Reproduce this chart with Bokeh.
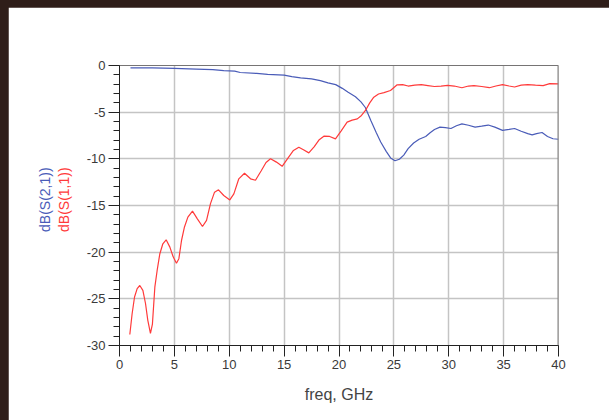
from bokeh.plotting import figure
from bokeh.models import FixedTicker, Span, Range1d, LinearAxis
from bokeh.layouts import column
from bokeh.embed import file_html
from bokeh.resources import INLINE

# S-parameter sweep, frequency in GHz
s11_freq = [0.94, 1.15, 1.37, 1.61, 1.85, 2.13, 2.37, 2.58, 2.82, 3.0, 3.22, 3.43, 3.67,
            3.95, 4.25, 4.59, 4.89, 5.19, 5.41, 5.65, 5.92, 6.23, 6.65, 7.08, 7.56, 7.93,
            8.29, 8.66, 9.02, 9.5, 10.05, 10.42, 10.87, 11.39, 11.94, 12.39, 12.9, 13.35,
            13.76, 14.3, 14.82, 15.3, 15.85, 16.34, 16.8, 17.25, 17.75, 18.2, 18.62, 19.15,
            19.68, 20.2, 20.74, 21.2, 21.67, 22.05, 22.41, 22.8, 23.17, 23.6, 24.1, 24.69,
            25.3, 25.8, 26.3, 26.9, 27.5, 28.1, 28.7, 29.3, 29.9, 30.5, 31.2, 31.8, 32.3,
            33.0, 33.7, 34.3, 34.9, 35.5, 36.0, 36.6, 37.2, 37.9, 38.6, 39.2, 40.0]
s11_db = [-28.82, -26.6, -24.8, -23.9, -23.57, -24.1, -25.5, -27.3, -28.7, -27.7, -23.75,
          -21.96, -20.2, -19.1, -18.68, -19.46, -20.5, -21.18, -20.7, -18.75, -17.3, -16.25,
          -15.6, -16.4, -17.25, -16.6, -14.8, -13.57, -13.32, -13.93, -14.4, -13.75, -12.14,
          -11.54, -12.14, -12.3, -11.3, -10.4, -10.0, -10.35, -10.8, -10.0, -9.1, -8.75,
          -9.05, -9.36, -8.7, -7.95, -7.57, -7.6, -7.86, -7.0, -6.07, -5.85, -5.72, -5.35,
          -4.82, -4.0, -3.39, -3.05, -2.9, -2.68, -2.07, -2.05, -2.2, -2.1, -2.05, -2.15,
          -2.25, -2.2, -2.12, -2.2, -2.38, -2.2, -2.15, -2.25, -2.38, -2.2, -2.04, -2.2,
          -2.3, -2.1, -2.04, -2.1, -2.15, -1.95, -1.96]

s21_freq = [1.0, 3.0, 5.0, 7.0, 8.5, 9.5, 10.5, 11.0, 12.5, 13.5, 15.0, 15.7, 16.5, 17.5,
            18.3, 19.0, 19.7, 20.3, 20.8, 21.5, 22.0, 22.4, 22.9, 23.4, 23.8, 24.3, 24.7,
            25.1, 25.5, 25.9, 26.3, 26.8, 27.3, 27.9, 28.3, 28.7, 29.2, 29.7, 30.2, 30.7,
            31.2, 31.8, 32.4, 33.0, 33.6, 34.2, 34.9, 35.5, 36.0, 36.6, 37.2, 37.6, 38.0,
            38.5, 39.0, 39.5, 40.0]
s21_db = [-0.25, -0.25, -0.3, -0.38, -0.45, -0.55, -0.6, -0.75, -0.85, -0.95, -1.03, -1.2,
          -1.33, -1.43, -1.62, -1.86, -2.05, -2.45, -2.85, -3.35, -3.9, -4.5, -5.9, -7.2,
          -8.2, -9.2, -9.9, -10.2, -10.05, -9.6, -8.9, -8.3, -7.9, -7.6, -7.2, -6.85, -6.6,
          -6.65, -6.75, -6.45, -6.25, -6.4, -6.6, -6.5, -6.38, -6.6, -6.95, -6.85, -6.75,
          -7.05, -7.3, -7.43, -7.3, -7.18, -7.6, -7.85, -7.9]

x_ticks = [0, 5, 10, 15, 20, 25, 30, 35, 40]
y_ticks = [0, -5, -10, -15, -20, -25, -30]
y_tick_labels = ["0", "-5", "-10", "-15", "-20", "-25", "-30"]

BLUE = "#4a5cb8"
RED = "#ff3a3a"
FONT = "Liberation Sans"

p = figure(width=601, height=413, output_backend="svg", toolbar_location=None,
           x_range=Range1d(0, 40), y_range=Range1d(-30, 0),
           min_border_left=111, min_border_right=51, min_border_top=58, min_border_bottom=75)
p.margin = (7, 0, 0, 8)
p.outline_line_color = None
p.background_fill_color = "white"
p.border_fill_color = "white"

# axes
p.xaxis.ticker = FixedTicker(ticks=x_ticks, minor_ticks=list(range(0, 41)))
p.yaxis.ticker = FixedTicker(ticks=y_ticks, minor_ticks=list(range(-30, 1)))
p.yaxis.major_label_overrides = {t: s for t, s in zip(y_ticks, y_tick_labels)}
p.xaxis.major_label_overrides = {t: str(t) for t in x_ticks}
for ax in (p.xaxis, p.yaxis):
    ax.axis_line_color = "#222222"
    ax.major_tick_line_color = "#222222"
    ax.minor_tick_line_color = "#222222"
    ax.major_tick_out = 11
    ax.major_tick_in = 0
    ax.minor_tick_out = 6
    ax.minor_tick_in = 0
    ax.major_label_text_font = FONT
    ax.major_label_text_font_size = "13px"
    ax.major_label_text_color = "#3a3a3a"
    ax.major_label_standoff = 3
p.xaxis.axis_label = "freq, GHz"
p.xaxis.axis_label_text_font = FONT
p.xaxis.axis_label_text_font_size = "16px"
p.xaxis.axis_label_text_font_style = "normal"
p.xaxis.axis_label_text_color = "#444444"
p.xaxis.axis_label_standoff = 14

# stacked y-axis titles, one bare axis per trace; the leading no-break
# spaces lift the visible text a little above the frame's centre
def title_axis(text, color, standoff):
    ax = LinearAxis(ticker=FixedTicker(ticks=[]), axis_label="\u00a0\u00a0\u00a0" + text,
                    axis_line_color=None, major_tick_line_color=None,
                    minor_tick_line_color=None, major_tick_out=0, minor_tick_out=0,
                    major_label_text_font_size="0px",
                    axis_label_text_font=FONT, axis_label_text_font_size="14px",
                    axis_label_text_font_style="normal", axis_label_text_color=color,
                    axis_label_standoff=standoff)
    p.add_layout(ax, "left")

title_axis("dB(S(1,1))", RED, 12)
title_axis("dB(S(2,1))", BLUE, 0)

# grid
p.xgrid.grid_line_color = "#c4c4c4"
p.ygrid.grid_line_color = "#c4c4c4"
p.xgrid.grid_line_width = 1.5
p.ygrid.grid_line_width = 1.5

# frame edges: dark top, grey right
p.add_layout(Span(location=0, dimension="width", line_color="#222222", line_width=1))
p.add_layout(Span(location=40, dimension="height", line_color="#808080", line_width=2))

# traces
p.line(s21_freq, s21_db, line_color=BLUE, line_width=1.2)
p.line(s11_freq, s11_db, line_color=RED, line_width=1.2)

page = column(p, styles={"background-color": "#2f1e19"})
open("out.html", "w").write(file_html(page, INLINE))
